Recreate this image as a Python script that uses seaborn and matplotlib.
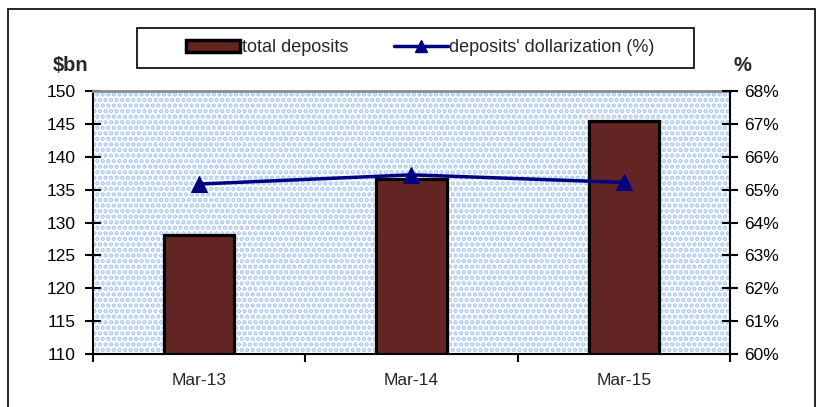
import matplotlib
matplotlib.use("Agg")
import matplotlib.pyplot as plt
import matplotlib.patches as mpatches
from matplotlib.lines import Line2D
from matplotlib.ticker import FixedLocator, PercentFormatter
import seaborn as sns
import pandas as pd

# data
periods = ["Mar-13", "Mar-14", "Mar-15"]
total_deposits = [128.1, 136.6, 145.4]      # $bn
dollarization = [65.17, 65.45, 65.22]       # %

df = pd.DataFrame({"period": periods, "deposits": total_deposits, "dollar": dollarization})

sns.set_style("white")
plt.rcParams["font.family"] = ["Liberation Sans", "DejaVu Sans"]
plt.rcParams["hatch.linewidth"] = 2.2
plt.rcParams["hatch.color"] = "#a9c9f0"

fig = plt.figure(figsize=(8.18, 4.07), dpi=100)
ax = fig.add_axes([0.1137, 0.1302, 0.7787, 0.6462])

# dotted background of the plot area
bg = mpatches.Rectangle((0, 0), 1, 1, transform=ax.transAxes, facecolor="white",
                        edgecolor="#a9c9f0", hatch="...", linewidth=0, zorder=0)
ax.add_patch(bg)

sns.barplot(data=df, x="period", y="deposits", ax=ax, color="#632523",
            width=0.33, edgecolor="black", linewidth=2.3, saturation=1, zorder=2)
ax.set_ylim(110, 150)
ax.set_xlim(-0.5, 2.5)
ax.set_yticks(range(110, 151, 5))
ax.set_xlabel("")
ax.set_ylabel("")

ax2 = ax.twinx()
sns.lineplot(data=df, x="period", y="dollar", ax=ax2, color="#000080", linewidth=2.5,
             marker="^", markersize=12, markeredgecolor="#000080", zorder=3)
ax2.set_ylim(60, 68)
ax2.set_yticks(range(60, 69, 1))
ax2.yaxis.set_major_formatter(PercentFormatter(decimals=0))
ax2.set_ylabel("")
ax2.set_xlim(-0.5, 2.5)

for a in (ax, ax2):
    for s in a.spines.values():
        s.set_visible(False)
ax.spines["left"].set_visible(True)
ax.spines["left"].set_color("black")
ax.spines["left"].set_linewidth(1.5)
ax.spines["bottom"].set_visible(True)
ax.spines["bottom"].set_color("black")
ax.spines["bottom"].set_linewidth(1.5)
ax.spines["top"].set_visible(True)
ax.spines["top"].set_color("#8c8c8c")
ax.spines["top"].set_linewidth(2)
ax2.spines["right"].set_visible(True)
ax2.spines["right"].set_color("black")
ax2.spines["right"].set_linewidth(1.5)

ax.tick_params(axis="y", direction="inout", length=11, width=1.5, labelsize=12.5, pad=7,
               colors="black", left=True)
ax2.tick_params(axis="y", direction="inout", length=11, width=1.5, labelsize=12.5, pad=5,
                colors="black", right=True)
ax.tick_params(axis="x", which="major", length=0, labelsize=12.5, pad=14)
ax.xaxis.set_minor_locator(FixedLocator([-0.5, 0.5, 1.5, 2.5]))
ax.tick_params(axis="x", which="minor", direction="out", length=6, width=1.5,
               bottom=True, color="black")

fig.text(53 / 818, 0.840, "$bn", fontsize=14.5, fontweight="bold", ha="left", va="center")
fig.text(0.897, 0.840, "%", fontsize=14.5, fontweight="bold", ha="left", va="center")

# legend: entries without frame, box drawn separately
handles = [mpatches.Patch(facecolor="#632523", edgecolor="black", linewidth=2.5),
           Line2D([], [], color="#000080", linewidth=2.5, marker="^", markersize=8)]
leg = fig.legend(handles, ["total deposits", "deposits' dollarization (%)"],
                 loc="center", bbox_to_anchor=(0.514, 0.8833), ncol=2, fontsize=13,
                 frameon=False, handlelength=3.0, handleheight=0.65,
                 handletextpad=0.1, columnspacing=2.5, borderpad=0, borderaxespad=0)
fig.patches.append(mpatches.Rectangle((137 / 818, 1 - 68 / 407), 557 / 818, 40 / 407,
                                      transform=fig.transFigure, fill=False,
                                      edgecolor="black", linewidth=1.2))

# outer chart frame
fig.patches.append(mpatches.Rectangle((8 / 818, -0.02), 807 / 818, 1 - 9 / 407 + 0.02,
                                      transform=fig.transFigure, fill=False,
                                      edgecolor="black", linewidth=1.2))

fig.savefig("out.png", dpi=100)
